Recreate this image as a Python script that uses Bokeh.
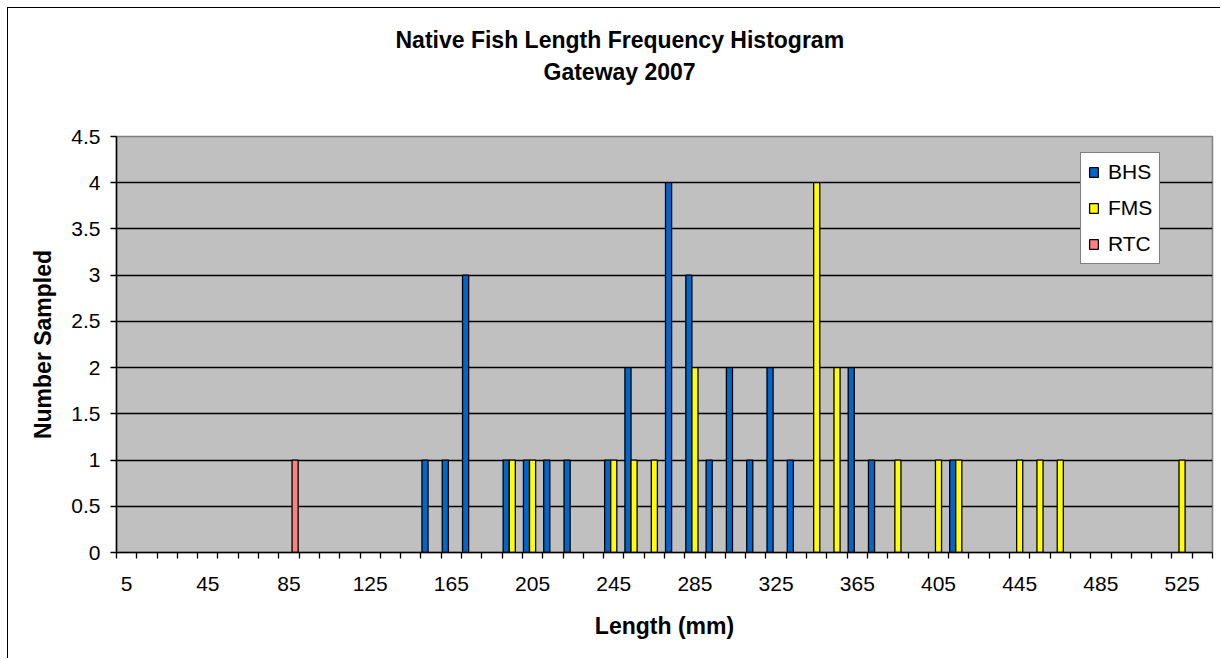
from bokeh.plotting import figure
from bokeh.models import Range1d, FixedTicker, ColumnDataSource, LinearAxis, Grid, Title
from bokeh.embed import file_html
from bokeh.resources import INLINE

# ---- data ----
lengths = [5, 15, 25, 35, 45, 55, 65, 75, 85, 95,
           105, 115, 125, 135, 145, 155, 165, 175, 185, 195,
           205, 215, 225, 235, 245, 255, 265, 275, 285, 295,
           305, 315, 325, 335, 345, 355, 365, 375, 385, 395,
           405, 415, 425, 435, 445, 455, 465, 475, 485, 495,
           505, 515, 525, 535]
BHS = [0, 0, 0, 0, 0, 0, 0, 0, 0, 0,
       0, 0, 0, 0, 0, 1, 1, 3, 0, 1,
       1, 1, 1, 0, 1, 2, 0, 4, 3, 1,
       2, 1, 2, 1, 0, 0, 2, 1, 0, 0,
       0, 1, 0, 0, 0, 0, 0, 0, 0, 0,
       0, 0, 0, 0]
FMS = [0, 0, 0, 0, 0, 0, 0, 0, 0, 0,
       0, 0, 0, 0, 0, 0, 0, 0, 0, 1,
       1, 0, 0, 0, 1, 1, 1, 0, 2, 0,
       0, 0, 0, 0, 4, 2, 0, 0, 1, 0,
       1, 1, 0, 0, 1, 1, 1, 0, 0, 0,
       0, 0, 1, 0]
RTC = [0, 0, 0, 0, 0, 0, 0, 0, 1, 0,
       0, 0, 0, 0, 0, 0, 0, 0, 0, 0,
       0, 0, 0, 0, 0, 0, 0, 0, 0, 0,
       0, 0, 0, 0, 0, 0, 0, 0, 0, 0,
       0, 0, 0, 0, 0, 0, 0, 0, 0, 0,
       0, 0, 0, 0]
series_names = ["BHS", "FMS", "RTC"]
series_colors = ["#0066CC", "#FFFF00", "#FF8080"]
y_ticks = [0, 0.5, 1, 1.5, 2, 2.5, 3, 3.5, 4, 4.5]
y_labels = ["0", "0.5", "1", "1.5", "2", "2.5", "3", "3.5", "4", "4.5"]
label_every = 4
title_main = "Native Fish Length Frequency Histogram"
title_sub = "Gateway 2007"

FONT = "Liberation Sans"
n = len(lengths)

p = figure(width=1213, height=651,
           x_range=Range1d(0, n), y_range=Range1d(0, 4.5),
           output_backend="svg", toolbar_location=None,
           min_border_left=108, min_border_right=9,
           min_border_top=128, min_border_bottom=107,
           x_axis_location=None, y_axis_location=None)

p.background_fill_color = "#C0C0C0"
p.border_fill_color = "white"
p.outline_line_color = "#808080"
p.outline_line_width = 1.5
p.styles = {"margin-left": "8px", "margin-top": "8px",
            "box-shadow": "-1px -1px 0 0 #000000"}

# bars
bw = 0.3
for k, (name, vals, col) in enumerate(zip(series_names, [BHS, FMS, RTC], series_colors)):
    xs = [i + 0.5 + (k - 1) * bw for i, v in enumerate(vals) if v > 0]
    tops = [v for v in vals if v > 0]
    src = ColumnDataSource(dict(x=xs, top=tops))
    p.vbar(x="x", top="top", width=bw, source=src, fill_color=col,
           line_color="black", line_width=1.3, legend_label=name)

# x axis
xaxis = LinearAxis()
centers = [i + 0.5 for i in range(0, n, label_every)]
xaxis.ticker = FixedTicker(ticks=centers, minor_ticks=list(range(0, n + 1)))
xaxis.major_label_overrides = {c: str(lengths[int(c - 0.5)]) for c in centers}
xaxis.major_tick_out = 0
xaxis.major_tick_in = 0
xaxis.minor_tick_out = 6
xaxis.minor_tick_in = 0
xaxis.minor_tick_line_color = "black"
xaxis.minor_tick_line_width = 1.3
xaxis.axis_line_color = "black"
xaxis.axis_line_width = 1.5
xaxis.major_label_text_font = FONT
xaxis.major_label_text_font_size = "21px"
xaxis.major_label_text_color = "black"
xaxis.major_label_standoff = 18
xaxis.axis_label = "Length (mm)"
xaxis.axis_label_text_font = FONT
xaxis.axis_label_text_font_size = "23px"
xaxis.axis_label_text_font_style = "bold"
xaxis.axis_label_text_color = "black"
xaxis.axis_label_standoff = 19
p.add_layout(xaxis, "below")

# y axis
yaxis = LinearAxis()
yaxis.ticker = FixedTicker(ticks=y_ticks)
yaxis.major_label_overrides = {t: l for t, l in zip(y_ticks, y_labels)}
yaxis.major_tick_out = 6
yaxis.major_tick_in = 0
yaxis.minor_tick_out = 0
yaxis.minor_tick_in = 0
yaxis.major_tick_line_width = 1.3
yaxis.axis_line_color = "black"
yaxis.axis_line_width = 1.5
yaxis.major_label_text_font = FONT
yaxis.major_label_text_font_size = "21px"
yaxis.major_label_text_color = "black"
yaxis.major_label_standoff = 10
yaxis.axis_label = "Number Sampled"
yaxis.axis_label_text_font = FONT
yaxis.axis_label_text_font_size = "23px"
yaxis.axis_label_text_font_style = "bold"
yaxis.axis_label_text_color = "black"
yaxis.axis_label_standoff = 12
p.add_layout(yaxis, "left")

# grid
p.xgrid.visible = False
p.ygrid.visible = False
g = Grid(dimension=1, ticker=FixedTicker(ticks=y_ticks[1:-1]))
g.grid_line_color = "black"
g.grid_line_width = 1.4
p.add_layout(g)

# titles: spacer (closest to plot), subtitle, main title
tstyle = dict(text_font=FONT, text_font_size="23px", text_font_style="bold", text_color="black")
p.add_layout(Title(text=" ", standoff=20, **tstyle), "above")
p.add_layout(Title(text=title_sub, align="left", offset=427, standoff=8, **tstyle), "above")
p.add_layout(Title(text=title_main, align="left", offset=279, standoff=0, **tstyle), "above")

# legend
lg = p.legend[0]
lg.location = (964, 288)
lg.background_fill_color = "white"
lg.background_fill_alpha = 1
lg.border_line_color = "black"
lg.border_line_width = 1.5
lg.label_text_font = FONT
lg.label_text_font_size = "21px"
lg.label_text_color = "black"
lg.glyph_width = 11
lg.glyph_height = 12
lg.label_height = 20
lg.spacing = 12
lg.padding = 7
lg.margin = 0
lg.label_standoff = 9

open("out.html", "w").write(file_html(p, INLINE))
